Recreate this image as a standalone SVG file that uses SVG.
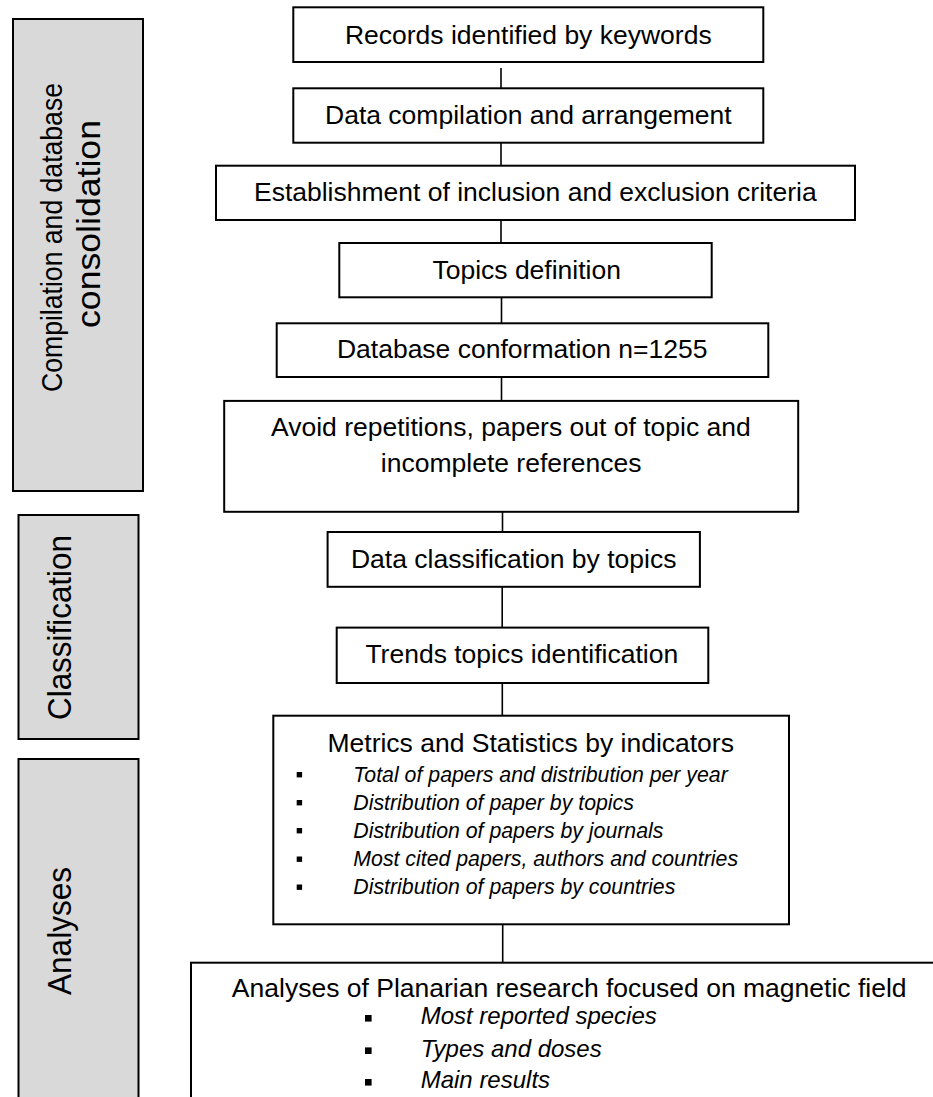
<svg xmlns="http://www.w3.org/2000/svg" width="933" height="1097" viewBox="0 0 933 1097">
<style>
.panel{fill:#d9d9d9;stroke:#000;stroke-width:2}
.box{fill:#fff;stroke:#000;stroke-width:2}
.t{font-family:"Liberation Sans",Arial,sans-serif;font-size:26.5px;fill:#000}
.m{text-anchor:middle}
.it{font-family:"Liberation Sans",Arial,sans-serif;font-style:italic;fill:#000}
.s{font-size:21.3px}
.l{font-size:24px}
.pt{font-family:"Liberation Sans",Arial,sans-serif;fill:#000;text-anchor:middle}
.c{stroke:#000;stroke-width:1.6;fill:none}
.b{fill:#000}
</style>
<rect width="933" height="1097" fill="#fff"/>
<g id="panel-compilation">
<rect class="panel" x="13" y="19" width="130" height="472"/>
<text class="pt" font-size="30" textLength="309" lengthAdjust="spacingAndGlyphs" transform="translate(62,237.5) rotate(-90)">Compilation and database</text>
<text class="pt" font-size="33" textLength="208" lengthAdjust="spacingAndGlyphs" transform="translate(100,224) rotate(-90)">consolidation</text>
</g>
<g id="panel-classification">
<rect class="panel" x="18.5" y="515" width="120" height="224"/>
<text class="pt" font-size="34" textLength="185" lengthAdjust="spacingAndGlyphs" transform="translate(71,627.5) rotate(-90)">Classification</text>
</g>
<g id="panel-analyses">
<rect class="panel" x="18.5" y="759" width="120" height="360"/>
<text class="pt" font-size="34" textLength="128" lengthAdjust="spacingAndGlyphs" transform="translate(71,931) rotate(-90)">Analyses</text>
</g>
<g id="connectors">
<line class="c" x1="501" y1="68" x2="501" y2="88.3"/>
<line class="c" x1="501" y1="142.7" x2="501" y2="165.7"/>
<line class="c" x1="501" y1="220" x2="501" y2="243"/>
<line class="c" x1="501.5" y1="297.3" x2="501.5" y2="323.3"/>
<line class="c" x1="501.5" y1="377" x2="501.5" y2="400.9"/>
<line class="c" x1="502.5" y1="511.8" x2="502.5" y2="532" stroke-width="2.6"/>
<line class="c" x1="502.2" y1="586.8" x2="502.2" y2="627.6"/>
<line class="c" x1="502.3" y1="683" x2="502.3" y2="715.7"/>
<line class="c" x1="502.7" y1="924.3" x2="502.7" y2="962.7"/>
</g>
<g id="n1">
<rect class="box" x="293.3" y="7.3" width="470" height="54.7"/>
<text class="t m" x="528.3" y="44">Records identified by keywords</text>
</g>
<g id="n2">
<rect class="box" x="293.3" y="88.3" width="470" height="54.4"/>
<text class="t m" x="528.3" y="124">Data compilation and arrangement</text>
</g>
<g id="n3">
<rect class="box" x="216" y="165.7" width="639" height="54.3"/>
<text class="t m" x="535.3" y="200.7">Establishment of inclusion and exclusion criteria</text>
</g>
<g id="n4">
<rect class="box" x="339.3" y="243" width="372.4" height="54.3"/>
<text class="t m" x="526.7" y="279">Topics definition</text>
</g>
<g id="n5">
<rect class="box" x="276.7" y="323.3" width="491.6" height="53.7"/>
<text class="t m" x="522.2" y="358.3">Database conformation n=1255</text>
</g>
<g id="n6">
<rect class="box" x="224.2" y="400.9" width="574" height="110.9"/>
<text class="t m" x="510.9" y="435.7">Avoid repetitions, papers out of topic and</text>
<text class="t m" x="511.2" y="472.2">incomplete references</text>
</g>
<g id="n7">
<rect class="box" x="327.6" y="532" width="372.3" height="54.8"/>
<text class="t m" x="513.7" y="567.5">Data classification by topics</text>
</g>
<g id="n8">
<rect class="box" x="336.7" y="627.6" width="371.6" height="55.4"/>
<text class="t m" x="521.8" y="663.1">Trends topics identification</text>
</g>
<g id="n9">
<rect class="box" x="273.3" y="715.7" width="515.7" height="208.6"/>
<text class="t m" x="530.7" y="751.7">Metrics and Statistics by indicators</text>
<rect class="b" x="296.7" y="772" width="5.4" height="5.4"/>
<rect class="b" x="296.7" y="800" width="5.4" height="5.4"/>
<rect class="b" x="296.7" y="828" width="5.4" height="5.4"/>
<rect class="b" x="296.7" y="856.5" width="5.4" height="5.4"/>
<rect class="b" x="296.7" y="884.5" width="5.4" height="5.4"/>
<text class="it s" x="353.3" y="781.7">Total of papers and distribution per year</text>
<text class="it s" x="353.3" y="809.6">Distribution of paper by topics</text>
<text class="it s" x="353.3" y="837.8">Distribution of papers by journals</text>
<text class="it s" x="353.3" y="866">Most cited papers, authors and countries</text>
<text class="it s" x="353.3" y="894">Distribution of papers by countries</text>
</g>
<g id="n10">
<rect class="box" x="191" y="962.7" width="770" height="200"/>
<text class="t m" x="569.2" y="997.3">Analyses of Planarian research focused on magnetic field</text>
<rect class="b" x="365" y="1015" width="6.6" height="6.6"/>
<rect class="b" x="365" y="1047.4" width="6.6" height="6.6"/>
<rect class="b" x="365" y="1079" width="6.6" height="6.6"/>
<text class="it l" x="420.7" y="1024.3">Most reported species</text>
<text class="it l" x="420.7" y="1056.7">Types and doses</text>
<text class="it l" x="420.7" y="1088.3">Main results</text>
</g>
</svg>
